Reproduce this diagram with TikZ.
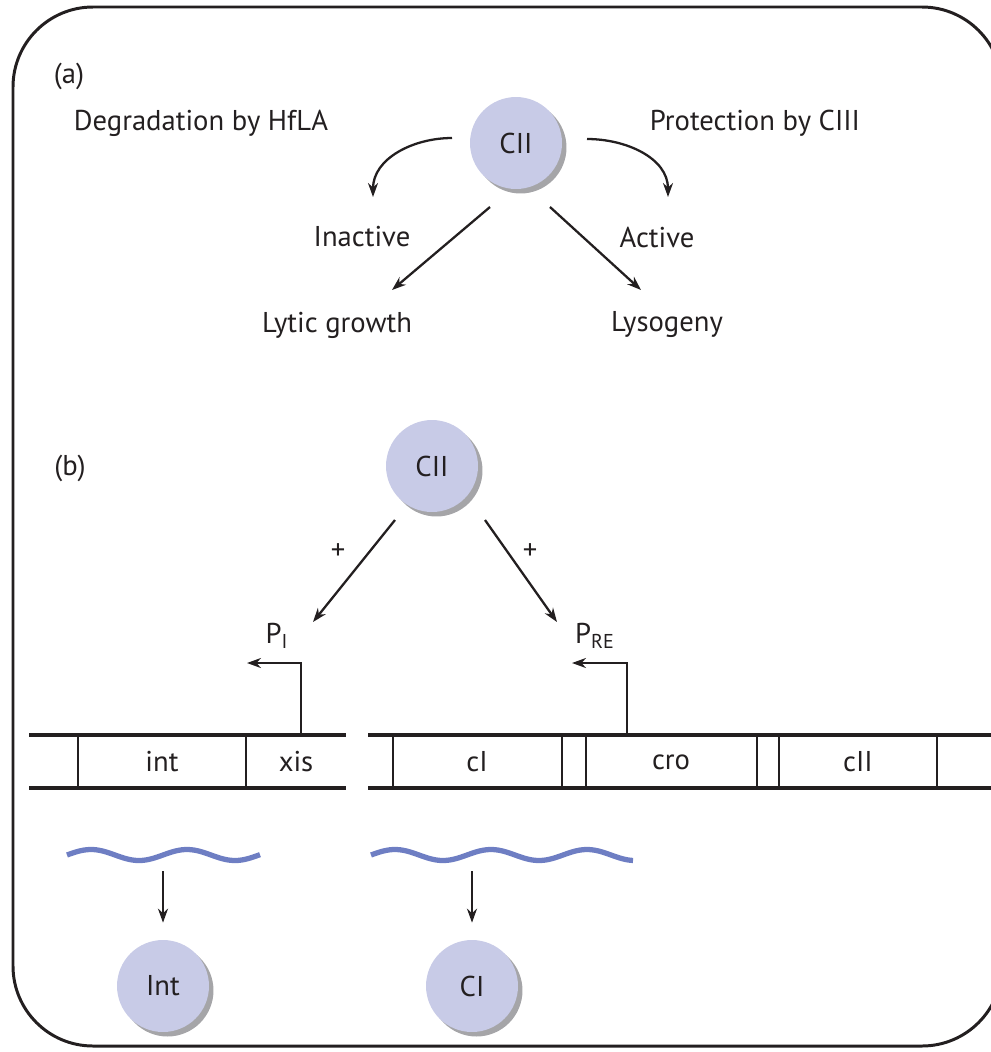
\documentclass[tikz,border=0pt]{standalone}
\usepackage{fontspec}
\setmainfont{PT Sans}
\usetikzlibrary{arrows.meta,shadows}
\definecolor{protein}{HTML}{C8CBE7}
\definecolor{shade}{HTML}{A5A5A8}
\definecolor{mrna}{HTML}{6E7EC3}
\definecolor{ink}{HTML}{231F20}
\begin{document}
\begin{tikzpicture}[x=0.02cm,y=0.02cm,
    font=\fontsize{16.3}{19}\selectfont,text=ink,
    prot/.style={circle,fill=protein,minimum size=1.84cm,inner sep=0pt,
      drop shadow={shadow xshift=0.09cm,shadow yshift=-0.09cm,fill=shade,opacity=1}},
    arr/.style={-{Stealth[length=0.28cm,width=0.2cm]},line width=1.3pt,draw=ink},
    gene/.style={line width=1.8pt,draw=ink},
    sep/.style={line width=1pt,draw=ink},
    mrnaline/.style={line width=3pt,draw=mrna}]
  \useasboundingbox (0,0) rectangle (991,-1052);
  \draw[line width=1.7pt,draw=ink,rounded corners=1.6cm] (13,-7) rectangle (1002,-1046);
  % (a)
  \node (a) at (69,-76) {(a)};
  \node (degr) at (201,-123) {Degradation by HfLA};
  \node (protect) at (755,-123) {Protection by CIII};
  \node[prot] (cIIa) at (516,-143) {CII};
  \node (inactive) at (362,-237) {Inactive};
  \node (active) at (657,-237) {Active};
  \node (lytic) at (337,-325) {Lytic growth};
  \node (lyso) at (667,-325) {Lysogeny};
  \draw[arr] ([shift={(-64,5)}]cIIa.center) to[out=180,in=90] ([shift={(11,40)}]inactive.center);
  \draw[arr] ([shift={(71,4)}]cIIa.center) to[out=0,in=90] ([shift={(11,40)}]active.center);
  \draw[arr] ([shift={(-26,-64)}]cIIa.center) -- ([shift={(55,35)}]lytic.center);
  \draw[arr] ([shift={(34,-64)}]cIIa.center) -- ([shift={(-26,35)}]lyso.center);
  % (b)
  \node (b) at (70,-468) {(b)};
  \node[prot] (cIIb) at (432,-466) {CII};
  \node (plusI) at (338,-552) {+};
  \node (plusRE) at (530,-552) {+};
  \node (pI) at (277,-636) {P\textsubscript{I}};
  \node (pRE) at (595,-636) {P\textsubscript{RE}};
  \draw[arr] ([shift={(-37,-54)}]cIIb.center) -- ([shift={(36,14)}]pI.center);
  \draw[arr] ([shift={(53,-54)}]cIIb.center) -- ([shift={(-38,14)}]pRE.center);
  \coordinate (tssI) at (301,-735);
  \coordinate (tssRE) at (627,-735);
  \draw[arr] (tssI) |- ([shift={(-30,-27)}]pI.center);
  \draw[arr] (tssRE) |- ([shift={(-23,-27)}]pRE.center);
  % genes
  \draw[gene] (29,-735) -- (346,-735) (29,-788) -- (346,-788);
  \draw[gene] (368,-735) -- (991,-735) (368,-788) -- (991,-788);
  \foreach \x in {78,246,393,562,586,757,779,937}
    \draw[sep] (\x,-735) -- (\x,-788);
  \node (int) at (162,-762) {int};
  \node (xis) at (296,-762) {xis};
  \node (cI) at (477,-762) {cI};
  \node (cro) at (671,-762) {cro};
  \node (cII) at (858,-762) {cII};
  % mRNA and products
  \draw[mrnaline] plot[domain=67:260,samples=80,smooth] (\x,{-855+5.5*sin(3.75*(\x-67))});
  \draw[mrnaline] plot[domain=371:633,samples=100,smooth] (\x,{-855+5.5*sin(3.75*(\x-371))});
  \coordinate (intmrna) at (163,-855);
  \coordinate (cImrna) at (472,-855);
  \node[prot] (intp) at (163,-986) {Int};
  \node[prot] (cIp) at (472,-986) {CI};
  \draw[arr,shorten <=0.32cm,shorten >=0.34cm] (intmrna) -- (intp);
  \draw[arr,shorten <=0.32cm,shorten >=0.34cm] (cImrna) -- (cIp);
\end{tikzpicture}
\end{document}
